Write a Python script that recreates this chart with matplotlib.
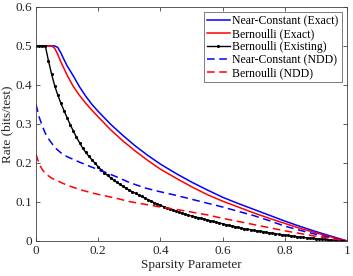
import numpy as np
import matplotlib
matplotlib.use("Agg")
import matplotlib.pyplot as plt

# ---- data ----
x_nc_exact = [0, 0.06, 0.07, 0.08, 0.09, 0.10, 0.12, 0.14, 0.16, 0.18, 0.20, 0.24, 0.28,
              0.32, 0.36, 0.40, 0.45, 0.50, 0.55, 0.60, 0.65, 0.70, 0.75, 0.80, 0.85,
              0.90, 0.95, 1.0]
y_nc_exact = [0.5, 0.5, 0.496, 0.482, 0.465, 0.449, 0.423, 0.395, 0.371, 0.350, 0.332,
              0.299, 0.270, 0.243, 0.219, 0.197, 0.173, 0.151, 0.131, 0.112, 0.096,
              0.081, 0.066, 0.051, 0.037, 0.024, 0.012, 0.0]

x_b_exact = [0, 0.05, 0.06, 0.07, 0.08, 0.09, 0.10, 0.12, 0.14, 0.16, 0.18, 0.20, 0.24,
             0.28, 0.32, 0.36, 0.40, 0.45, 0.50, 0.55, 0.60, 0.65, 0.70, 0.75, 0.80,
             0.85, 0.90, 0.95, 1.0]
y_b_exact = [0.5, 0.5, 0.494, 0.478, 0.459, 0.442, 0.425, 0.396, 0.373, 0.353, 0.335,
             0.318, 0.285, 0.256, 0.230, 0.206, 0.184, 0.161, 0.139, 0.119, 0.102,
             0.087, 0.072, 0.058, 0.045, 0.032, 0.021, 0.010, 0.0]

x_b_existing = [i / 100 for i in range(101)]
y_b_existing = [0.5, 0.5, 0.5, 0.5, 0.462, 0.428, 0.398, 0.374, 0.353, 0.334,
                0.316, 0.298, 0.282, 0.266, 0.252, 0.238, 0.227, 0.217, 0.208, 0.199,
                0.190, 0.182, 0.175, 0.168, 0.162, 0.156, 0.150, 0.145, 0.140, 0.135,
                0.130, 0.126, 0.122, 0.118, 0.114, 0.110, 0.106, 0.102, 0.098, 0.095,
                0.091, 0.088, 0.085, 0.082, 0.079, 0.076, 0.074, 0.071, 0.069, 0.066,
                0.064, 0.062, 0.060, 0.058, 0.056, 0.054, 0.052, 0.050, 0.048, 0.046,
                0.044, 0.042, 0.040, 0.038, 0.037, 0.035, 0.033, 0.031, 0.030, 0.029,
                0.027, 0.026, 0.025, 0.024, 0.022, 0.021, 0.020, 0.019, 0.017, 0.016,
                0.015, 0.014, 0.013, 0.012, 0.011, 0.010, 0.009, 0.008, 0.008, 0.007,
                0.006, 0.005, 0.004, 0.004, 0.003, 0.002, 0.002, 0.001, 0.001, 0.000,
                0.000]

x_nc_ndd = [0, 0.01, 0.02, 0.03, 0.04, 0.06, 0.08, 0.10, 0.14, 0.18, 0.22, 0.26, 0.30,
            0.35, 0.40, 0.45, 0.50, 0.55, 0.60, 0.65, 0.70, 0.75, 0.80, 0.85, 0.90,
            0.95, 1.0]
y_nc_ndd = [0.35, 0.318, 0.295, 0.276, 0.262, 0.240, 0.226, 0.216, 0.202, 0.189, 0.177,
            0.164, 0.150, 0.136, 0.126, 0.117, 0.107, 0.097, 0.087, 0.076, 0.065,
            0.052, 0.038, 0.027, 0.017, 0.008, 0.0]

x_b_ndd = [0, 0.01, 0.02, 0.03, 0.05, 0.08, 0.10, 0.14, 0.18, 0.22, 0.26, 0.30, 0.35,
           0.40, 0.45, 0.50, 0.55, 0.60, 0.65, 0.70, 0.75, 0.80, 0.85, 0.90, 0.95, 1.0]
y_b_ndd = [0.222, 0.198, 0.183, 0.173, 0.161, 0.150, 0.143, 0.132, 0.123, 0.116, 0.109,
           0.101, 0.094, 0.087, 0.081, 0.074, 0.067, 0.058, 0.050, 0.042, 0.034,
           0.026, 0.019, 0.012, 0.006, 0.0]

labels = ["Near-Constant (Exact)", "Bernoulli (Exact)", "Bernoulli (Existing)",
          "Near-Constant (NDD)", "Bernoulli (NDD)"]
x_ticks = [0, 0.2, 0.4, 0.6, 0.8, 1]
x_tick_labels = ["0", "0.2", "0.4", "0.6", "0.8", "1"]
y_ticks = [0, 0.1, 0.2, 0.3, 0.4, 0.5, 0.6]
y_tick_labels = ["0", "0.1", "0.2", "0.3", "0.4", "0.5", "0.6"]

# ---- figure ----
plt.rcParams["font.family"] = ["Liberation Serif", "DejaVu Serif"]
fig = plt.figure(figsize=(3.53, 2.76), dpi=100)
ax = fig.add_axes([0.102, 0.127, 0.881, 0.848])

axc = "#404040"
ax.plot(x_nc_exact, y_nc_exact, color="#0000ff", lw=1.1, label=labels[0])
ax.plot(x_b_exact, y_b_exact, color="#ff0000", lw=1.1, label=labels[1])
ax.plot(x_b_existing, y_b_existing, color="black", lw=1.0, marker=".", ms=2.5,
        label=labels[2])
ax.plot(x_nc_ndd, y_nc_ndd, color="#0000ff", lw=1.1, ls=(0, (5, 3)), label=labels[3])
ax.plot(x_b_ndd, y_b_ndd, color="#ff0000", lw=1.1, ls=(0, (5, 3)), label=labels[4])

ax.set_xlim(0, 1)
ax.set_ylim(0, 0.6)
ax.set_xticks(x_ticks)
ax.set_xticklabels(x_tick_labels)
ax.set_yticks(y_ticks)
ax.set_yticklabels(y_tick_labels)
ax.tick_params(direction="in", top=True, right=True, length=3, width=0.6,
               colors=axc, labelsize=9.5, labelcolor="#262626", pad=3)
for s in ax.spines.values():
    s.set_color(axc)
    s.set_linewidth(0.6)

ax.set_xlabel("Sparsity Parameter", fontsize=9.5, color="#262626", labelpad=1)
ax.set_ylabel("Rate (bits/test)", fontsize=9.5, color="#262626", labelpad=1)

leg = ax.legend(loc="upper right", fontsize=8.5, frameon=True, fancybox=False,
                borderpad=0.25, labelspacing=0.08, handlelength=1.9,
                handletextpad=0.25, borderaxespad=0.45)
leg.get_frame().set_edgecolor(axc)
leg.get_frame().set_linewidth(0.6)

fig.savefig("out.png", dpi=100)
